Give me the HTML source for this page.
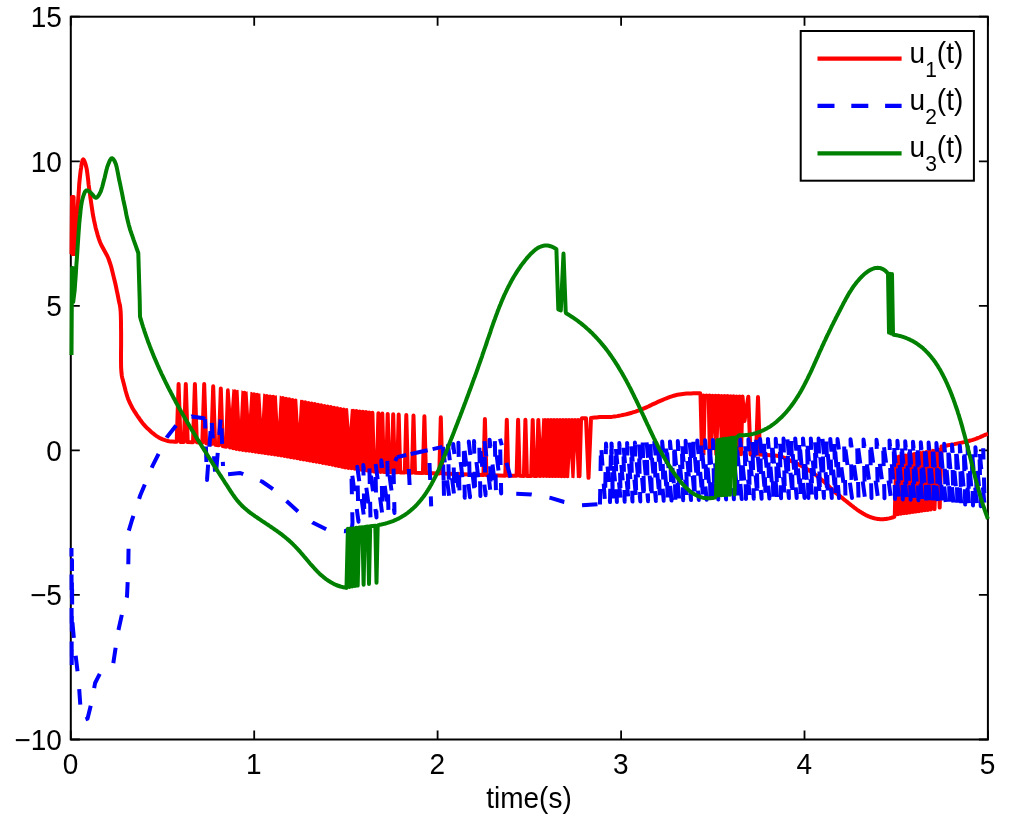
<!DOCTYPE html>
<html><head><meta charset="utf-8"><style>
html,body{margin:0;padding:0;background:#fff;overflow:hidden;}
svg{display:block;}
svg text{will-change:transform;}
text{font-family:"Liberation Sans",sans-serif;font-size:28px;fill:#000;}
</style></head><body>
<svg width="1024" height="823" viewBox="0 0 1024 823">
<rect x="0" y="0" width="1024" height="823" fill="#fff"/>
<rect x="70.8" y="16.7" width="917.1" height="722.8" fill="none" stroke="#000" stroke-width="2"/>
<path d="M70.8 739.5V730.5M70.8 16.7V25.7M254.2 739.5V730.5M254.2 16.7V25.7M437.6 739.5V730.5M437.6 16.7V25.7M621.1 739.5V730.5M621.1 16.7V25.7M804.5 739.5V730.5M804.5 16.7V25.7M987.9 739.5V730.5M987.9 16.7V25.7M70.8 739.5H79.8M987.9 739.5H978.9M70.8 594.9H79.8M987.9 594.9H978.9M70.8 450.4H79.8M987.9 450.4H978.9M70.8 305.8H79.8M987.9 305.8H978.9M70.8 161.3H79.8M987.9 161.3H978.9M70.8 16.7H79.8M987.9 16.7H978.9" stroke="#000" stroke-width="1.8" fill="none"/>
<g fill="none" stroke-linejoin="round" stroke-width="4.0">
<path d="M71.5 254.0L72.0 197.0L72.4 254.0L72.8 197.0L73.2 254.0L73.6 197.0L74.2 254.0L75.6 252.0L76.0 243.3L76.4 234.5L76.8 225.7L77.2 217.0L77.6 208.7L78.1 201.0L78.5 195.3L78.9 189.6L79.2 184.2L79.7 179.2L80.2 174.5L80.7 170.4L81.1 168.0L81.4 165.5L81.8 163.2L82.3 161.3L82.7 159.9L83.2 159.4L83.6 159.7L84.1 160.4L84.6 161.6L85.1 163.0L85.6 164.5L86.0 166.0L86.7 168.9L87.2 172.4L87.7 176.2L88.2 180.3L88.6 184.5L89.2 188.6L89.9 193.6L90.6 199.0L91.4 204.5L92.2 209.9L93.0 215.2L94.0 220.2L94.9 224.1L95.7 227.9L96.7 231.6L97.7 235.1L98.8 238.6L100.0 242.0L101.3 245.0L102.8 247.8L104.3 250.5L105.8 253.2L107.3 256.0L108.6 259.0L109.8 262.5L111.0 266.1L112.0 269.9L112.9 273.6L113.8 277.4L114.7 281.0L115.5 284.3L116.2 287.7L116.9 291.1L117.6 294.3L118.2 297.3L118.7 300.0L119.0 301.5L119.3 302.7L119.6 303.9L119.9 305.1L120.1 306.4L120.3 307.9L120.6 311.0L120.8 314.6L120.9 318.5L121.0 322.7L121.0 327.1L121.1 331.6L121.1 338.1L121.1 345.5L121.0 353.2L121.0 360.7L121.1 367.5L121.5 373.1L121.8 375.6L122.2 377.7L122.7 379.6L123.2 381.5L123.7 383.3L124.2 385.2L124.7 387.2L125.2 389.3L125.7 391.3L126.3 393.3L126.9 395.3L127.5 397.2L128.1 398.9L128.8 400.6L129.5 402.2L130.3 403.8L131.1 405.4L131.9 407.0L132.7 408.5L133.6 410.0L134.5 411.5L135.5 412.9L136.4 414.4L137.4 415.8L138.4 417.3L139.5 418.8L140.5 420.3L141.6 421.8L142.7 423.2L143.9 424.6L145.1 426.0L146.4 427.3L147.6 428.6L149.0 429.8L150.3 431.0L151.6 432.2L152.8 433.2L154.1 434.2L155.3 435.2L156.6 436.1L157.9 436.9L159.2 437.7L160.6 438.4L162.1 439.1L163.5 439.6L165.1 440.2L166.5 440.6L168.0 441.0L169.3 441.3L170.6 441.4L171.8 441.5L173.1 441.6L174.3 441.7L175.6 441.8L176.7 441.8L178.6 384.0L180.5 441.9L183.9 442.0L185.8 384.0L187.7 442.1L193.0 442.2L194.9 384.0L196.8 442.3L202.3 442.8L204.2 384.0L206.1 443.3L211.3 444.2L213.2 386.2L215.1 444.7L218.9 445.3L220.8 388.6L222.7 446.1L226.1 446.8L228.0 390.2L229.9 447.5L230.0 447.5L231.6 390.8L233.2 448.2L234.8 391.3L236.4 448.9L238.0 391.8L239.6 449.5L241.2 392.2L242.8 450.0L244.4 392.7L246.0 450.4L247.6 393.2L249.2 450.8L250.8 393.8L252.4 451.3L254.0 394.3L255.6 451.7L257.2 394.8L258.8 452.2L260.4 395.2L262.0 452.6L263.6 395.6L265.2 453.1L266.8 396.0L268.4 453.6L270.0 396.4L271.6 454.0L273.2 396.8L274.8 454.5L276.4 397.2L278.0 455.0L279.6 397.6L281.2 455.4L282.8 398.1L284.4 456.0L286.0 398.7L287.6 456.6L289.2 399.3L290.8 457.2L292.4 399.9L294.0 457.7L295.6 400.5L297.2 458.3L298.8 401.1L300.4 458.9L302.0 401.7L303.6 459.5L305.2 402.3L306.8 460.0L308.4 402.9L310.0 460.6L311.6 403.5L313.2 461.2L314.8 404.1L316.4 461.8L318.0 404.7L319.6 462.3L321.2 405.3L322.8 462.9L324.4 405.9L326.0 463.5L327.6 406.5L329.2 464.1L330.8 407.1L332.4 464.7L334.0 407.7L335.6 465.4L337.2 408.3L338.8 466.1L340.4 408.9L342.0 466.8L343.6 409.5L345.2 467.4L346.8 410.0L348.4 467.9L350.0 410.4L351.6 468.3L353.2 410.7L354.8 468.8L356.4 411.1L358.0 469.3L359.6 411.4L361.2 469.7L362.8 411.8L364.4 470.2L366.0 412.1L367.6 470.6L369.2 412.5L370.8 471.1L372.4 412.8L374.0 471.6L376.9 471.8L378.4 413.3L379.9 471.8L380.8 471.9L382.3 413.6L383.8 471.9L386.2 472.0L387.7 413.9L389.2 472.1L391.7 472.2L393.2 414.3L394.7 472.2L397.2 472.3L398.7 414.6L400.2 472.4L404.8 472.5L406.3 415.1L407.8 472.6L412.0 472.7L413.5 415.6L415.0 472.8L422.9 473.0L424.4 416.2L425.9 473.1L439.3 473.5L440.8 417.3L442.3 473.5L483.4 475.0L484.9 419.0L486.4 475.1L505.3 475.7L506.8 419.8L508.3 475.7L516.6 475.8L518.1 419.8L519.6 475.8L523.9 475.9L525.4 419.8L526.9 475.9L531.2 475.9L532.7 419.9L534.2 475.9L536.8 476.0L538.3 419.9L539.8 476.0L540.5 476.0L542.0 419.9L543.5 476.0L545.0 419.9L546.5 476.0L548.0 419.9L549.5 476.1L551.0 419.9L552.5 476.1L554.0 419.9L555.5 476.1L557.0 419.9L558.5 476.1L560.0 419.9L561.5 476.2L563.0 419.9L564.5 476.2L566.0 419.9L567.5 476.2L569.0 420.0L570.5 476.2L572.0 420.0L573.5 476.3L575.0 420.0L576.5 476.3L578.0 420.0L579.5 476.3L581.0 420.0L582.0 418.2L586.0 418.2L588.5 477.8L591.0 418.0L591.0 418.0L592.8 417.8L594.5 417.6L596.3 417.4L598.1 417.2L599.8 417.0L601.5 416.9L603.0 416.9L604.4 416.9L605.7 417.0L607.1 417.0L608.5 417.1L610.0 417.0L611.7 416.9L613.5 416.6L615.4 416.4L617.2 416.1L619.1 415.7L620.9 415.4L622.7 415.0L624.6 414.6L626.4 414.2L628.3 413.7L630.1 413.2L631.9 412.7L633.7 412.1L635.6 411.6L637.4 410.9L639.2 410.3L641.0 409.6L642.8 408.9L644.6 408.1L646.4 407.3L648.3 406.5L650.1 405.6L651.9 404.7L653.7 403.9L655.5 403.1L657.3 402.2L659.1 401.4L660.9 400.6L662.8 399.8L664.6 399.0L666.4 398.3L668.2 397.6L670.1 396.9L671.9 396.3L673.8 395.7L675.6 395.2L677.4 394.8L679.2 394.5L681.1 394.2L682.9 394.0L684.7 393.8L686.5 393.6L688.2 393.5L689.9 393.4L691.5 393.4L693.1 393.3L694.6 393.3L696.0 393.3L696.8 393.3L697.5 393.3L698.2 393.3L698.9 393.3L699.5 393.3L700.2 393.3L700.5 395.3L702.0 453.2L703.5 395.4L705.0 453.3L706.5 395.5L708.0 453.4L709.5 395.6L711.0 453.5L712.5 395.7L714.0 453.5L715.5 395.8L717.0 453.6L718.5 395.8L720.0 453.7L721.5 395.9L723.0 453.8L724.5 396.0L726.0 453.8L727.5 396.1L729.0 453.9L730.5 396.2L732.0 454.0L733.5 396.3L735.0 454.0L736.5 396.4L738.0 454.1L739.5 396.5L741.0 454.2L742.5 396.5L744.5 421.0L748.3 396.7L750.5 454.4L756.0 454.6L758.0 397.0L760.0 454.6L760.0 454.6L763.4 454.8L766.9 455.0L770.3 455.2L773.7 455.4L777.0 455.8L780.0 456.4L782.3 457.0L784.4 457.8L786.4 458.7L788.3 459.6L790.3 460.6L792.3 461.5L794.4 462.5L796.4 463.4L798.5 464.4L800.5 465.5L802.6 466.6L804.6 467.7L806.7 469.0L808.8 470.3L810.9 471.7L813.0 473.1L815.0 474.5L816.9 475.9L818.5 477.1L820.1 478.4L821.6 479.7L823.1 480.9L824.6 482.2L826.0 483.5L827.3 484.7L828.5 486.0L829.8 487.3L831.0 488.5L832.2 489.7L833.4 490.9L834.5 491.9L835.7 492.8L836.8 493.7L838.0 494.6L839.2 495.5L840.3 496.4L841.4 497.3L842.6 498.2L843.7 499.2L844.8 500.1L846.0 501.0L847.1 501.9L848.2 502.8L849.4 503.7L850.5 504.6L851.6 505.5L852.8 506.4L853.9 507.3L855.0 508.1L856.2 509.0L857.3 509.8L858.5 510.6L859.6 511.4L860.8 512.1L861.9 512.8L863.0 513.5L864.2 514.1L865.3 514.8L866.4 515.4L867.6 515.9L868.7 516.4L869.8 516.8L871.0 517.3L872.1 517.6L873.3 518.0L874.4 518.3L875.5 518.6L876.7 518.8L877.8 519.0L879.0 519.1L880.1 519.2L881.3 519.3L882.4 519.3L883.6 519.2L884.7 519.1L885.9 519.0L887.0 518.8L888.1 518.6L889.2 518.4L890.2 518.1L891.2 517.8L892.2 517.5L893.3 517.2L894.3 516.9L894.8 514.6L896.3 457.1L897.8 514.2L899.3 456.6L900.8 513.8L902.3 456.0L903.8 513.3L905.3 455.5L906.8 512.9L908.3 455.0L909.8 512.5L911.3 454.5L912.8 512.0L914.3 454.0L915.8 511.6L917.3 453.5L918.8 511.2L920.3 452.9L921.8 510.7L923.3 452.4L924.8 510.3L926.3 451.9L927.8 509.9L929.3 451.4L930.8 509.4L933.0 450.7L934.5 509.1L936.5 450.0L938.0 449.6L939.7 507.6L941.5 446.5L941.5 446.5L943.6 446.1L945.7 445.7L947.9 445.3L950.0 444.9L952.1 444.5L954.3 444.1L956.7 443.6L959.2 443.1L961.7 442.6L964.1 442.1L966.5 441.6L968.7 441.0L970.4 440.5L972.0 440.1L973.6 439.6L975.1 439.1L976.6 438.5L978.0 438.0L979.3 437.5L980.6 436.9L981.8 436.3L983.0 435.8L984.1 435.3L985.1 434.9L985.6 434.7L986.1 434.5L986.6 434.4L987.0 434.3L987.4 434.1L987.9 434.0" stroke="#ff0000"/>
<path d="M229.5 387.7L232.5 387.7L231.0 409.0ZM238.5 389.1L241.5 389.1L240.0 420.0ZM247.5 390.5L250.5 390.5L249.0 415.0ZM260.3 392.4L263.3 392.4L261.8 419.0ZM276.8 394.5L279.8 394.5L278.3 422.0ZM297.2 398.1L300.2 398.1L298.7 423.7ZM348.0 407.3L351.0 407.3L349.5 428.0ZM540.0 415.0L542.4 415.0L541.2 439.0ZM569.0 481.0L571.6 481.0L570.3 457.7ZM574.4 481.0L577.0 481.0L575.7 450.9ZM705.4 458.0L708.0 458.0L706.7 398.0ZM712.1 458.0L714.5 458.0L713.3 432.6ZM718.0 458.0L720.4 458.0L719.2 425.8Z" fill="#fff" stroke="none"/>
<g stroke="#0000ff" stroke-dasharray="15.5 18.0"><path d="M71.5 548.0L71.7 670.0L72.0 560.0L72.2 620.0L74.7 647.4L78.6 680.5L81.1 716.2L84.0 720.0L87.5 718.7L91.3 703.4L95.1 683.0L100.2 672.9L113.0 665.2L118.0 632.1L123.1 609.2L127.0 596.4L128.2 571.0L128.8 530.8L132.0 520.0L140.2 495.5L152.3 466.4L166.9 437.2L177.0 424.4L191.6 416.4L203.7 418.3L205.0 419.0" stroke-dashoffset="7.01"/><path d="M205.0 419.0L207.0 480.0L211.5 418.0L215.5 479.0L221.0 415.0L223.0 466.0" stroke-dashoffset="6.00"/><path d="M228.0 474.2L240.2 473.0L262.0 481.5L274.2 490.0L286.4 501.0L298.5 511.9L313.1 522.8L327.7 530.1L344.7 531.3L352.0 527.7" stroke-dashoffset="33.43"/><path d="M352.0 527.7L352.5 522.8L351.3 468.3L358.5 521.7L357.3 466.7L364.5 520.7L363.3 465.0L370.5 519.2L369.3 463.2L376.5 517.5L375.3 461.5L382.5 516.0L381.3 460.3L388.5 514.5L387.3 459.1L394.5 513.0L393.3 457.8" stroke-dashoffset="0.00"/><path d="M443.0 446.8L444.0 496.9L442.8 446.8L449.2 496.7L448.0 445.5L454.4 497.2L453.2 444.1L459.6 497.8L458.4 442.7L464.8 497.7L463.6 442.0L470.0 497.2L468.8 441.5L475.2 496.6L474.0 441.1L480.4 496.0L479.2 440.6L485.6 495.3L484.4 440.1L490.8 494.7L489.6 439.7L496.0 494.0L494.8 439.2L501.2 493.4L500.0 438.8" stroke-dashoffset="0.00"/><path d="M500.0 438.8L515.0 493.8L531.4 494.4L550.6 497.9L564.2 502.0L582.0 505.3L598.4 504.2L600.0 504.5" stroke-dashoffset="8.73"/><path d="M600.0 504.5L600.0 502.4L601.0 443.8L605.0 502.3L606.0 443.6L610.0 502.1L611.0 443.4L613.0 502.1L611.5 443.4L616.9 502.0L615.4 443.3L620.8 501.9L619.3 443.1L624.7 501.8L623.2 443.0L628.6 501.7L627.1 442.9L632.5 501.6L631.0 442.7L636.4 501.5L634.9 442.6L640.3 501.4L638.8 442.4L644.2 501.3L642.7 442.3L648.1 501.2L646.6 442.2L652.0 501.1L650.5 442.0L655.9 501.0L654.4 441.9L659.8 500.9L658.3 441.8L663.7 500.8L662.2 441.6L667.6 500.7L666.1 441.5L671.5 500.6L670.0 441.4L675.4 500.5L673.9 441.2L679.3 500.4L677.8 441.1L683.2 500.3L681.7 440.9L687.1 500.2L685.6 440.8L691.0 500.1L689.5 440.7L694.9 500.0L693.4 440.5L698.8 499.9L697.3 440.4L702.7 499.8L701.2 440.3L706.6 499.8L705.1 440.2L710.5 499.7L709.0 440.1L714.4 499.6L712.9 440.0L718.3 499.5L716.8 440.0L722.2 499.5L720.7 439.9L726.1 499.4L724.6 439.8L730.0 499.3L728.5 439.7L733.9 499.2L732.4 439.7L737.8 499.1L736.3 439.6L741.7 499.1L740.2 439.5L746.0 499.0L744.5 439.4L749.9 498.9L748.4 439.3L753.8 498.8L752.3 439.3L757.7 498.7L756.2 439.2L761.6 498.7L760.1 439.1L765.5 498.6L764.0 439.0L769.4 498.5L767.9 438.9L773.3 498.4L771.8 438.9L777.2 498.4L775.7 438.8L781.1 498.3L779.6 438.7L785.0 498.2L783.5 438.6L788.9 498.1L787.4 438.6L792.8 498.0L791.3 438.5L796.7 498.0L795.2 438.4L800.6 497.9L799.1 438.3L804.5 497.9L803.0 438.4L808.4 497.9L806.9 438.4L812.3 497.9L810.8 438.5L816.2 497.9L814.7 438.6L820.1 498.0L818.6 438.6L824.0 498.0L822.5 438.7L827.9 498.0L826.4 438.8L831.8 498.0L830.3 438.9L835.7 498.0L834.2 438.9L839.0 498.0L837.5 439.0L845.5 498.0L844.0 439.1L852.0 498.0L850.5 439.2L858.5 498.0L857.0 439.4L865.0 498.1L863.5 439.5L871.5 498.1L870.0 439.6L878.0 498.1L876.5 439.7L884.5 498.3L883.0 440.0L891.0 498.7L889.5 440.4L895.0 498.9L893.5 440.6L898.9 499.1L897.4 440.8L902.8 499.4L901.3 441.0L906.7 499.6L905.2 441.3L910.6 499.8L909.1 441.5L914.5 500.0L913.0 441.7L918.4 500.2L916.9 442.0L922.3 500.4L920.8 442.2L926.2 500.6L924.7 442.4L930.1 500.9L928.6 442.6L934.0 501.1L932.5 442.9L937.9 501.3L936.4 443.1L941.8 501.6L940.3 443.3L945.7 502.1L944.2 443.8L949.6 502.6L948.1 444.2L953.5 503.0L952.0 444.7L957.4 503.5L955.9 445.1L961.3 504.0L959.8 445.5L965.2 504.5L963.7 446.0L969.1 504.9L967.6 446.4L973.0 505.4L971.5 446.9L976.9 505.9L975.4 447.3L980.8 506.3L979.3 447.7L984.7 506.8L983.2 448.2" stroke-dashoffset="0.00"/><path d="M397.0 457.1L406.3 455.0M410.7 454.0L427.7 450.2M432.6 449.1L442.5 446.9M395.2 461.0L397.0 457.1M408.8 469.0L409.6 485.0M429.5 463.0L430.2 480.0M430.8 496.4L431.2 506.4" stroke-dasharray="none"/></g>
<path d="M71.5 355.0L72.0 268.0L72.4 300.0L72.8 268.0L73.2 302.0L74.7 290.0L75.1 283.6L75.6 277.3L76.0 270.9L76.4 264.5L76.9 258.2L77.3 252.0L77.7 246.1L78.1 240.1L78.5 234.2L78.9 228.5L79.3 223.1L79.8 218.0L80.2 214.5L80.5 211.1L80.9 207.8L81.3 204.8L81.8 201.9L82.4 199.3L82.9 197.5L83.4 195.8L84.0 194.1L84.6 192.7L85.2 191.5L85.8 190.8L86.1 190.6L86.3 190.5L86.6 190.4L86.9 190.4L87.2 190.4L87.5 190.5L88.0 190.7L88.6 191.0L89.2 191.5L89.8 191.9L90.4 192.5L91.0 193.0L91.8 193.8L92.7 194.8L93.5 195.9L94.4 196.9L95.2 197.6L96.0 197.8L96.7 197.6L97.4 197.0L98.1 196.2L98.8 195.2L99.4 194.1L100.0 193.0L100.8 191.3L101.5 189.2L102.2 187.0L102.8 184.7L103.4 182.3L104.0 180.0L104.7 177.5L105.3 174.9L105.9 172.2L106.6 169.6L107.2 167.1L108.0 165.0L108.6 163.5L109.2 162.0L109.8 160.6L110.5 159.4L111.1 158.6L111.8 158.2L112.3 158.3L112.9 158.7L113.4 159.3L114.0 160.1L114.5 161.0L115.0 162.0L115.9 164.3L116.7 167.2L117.4 170.6L118.1 174.2L118.8 177.8L119.5 181.3L120.3 184.8L121.0 188.4L121.8 192.1L122.5 195.7L123.2 199.4L124.0 203.0L124.8 206.7L125.6 210.5L126.3 214.4L127.1 218.1L128.0 221.7L128.8 225.0L129.5 227.4L130.1 229.6L130.8 231.7L131.5 233.7L132.3 235.8L133.0 238.0L133.8 240.4L134.7 242.9L135.6 245.4L136.5 248.0L137.4 250.5L138.3 253.0L139.7 300.0L140.0 316.6L140.4 318.1L140.8 319.5L141.3 321.0L141.7 322.4L142.1 323.9L142.6 325.3L143.0 326.8L143.5 328.2L144.0 329.6L144.4 331.1L144.9 332.5L145.4 333.9L145.9 335.4L146.4 336.8L146.9 338.2L147.4 339.6L147.9 341.1L148.4 342.5L149.0 343.9L149.5 345.3L150.0 346.7L150.6 348.1L151.1 349.5L151.7 350.9L152.2 352.3L152.8 353.7L153.4 355.1L153.9 356.5L154.5 357.9L155.1 359.2L155.7 360.6L156.3 362.0L156.9 363.4L157.5 364.8L158.1 366.1L158.7 367.5L159.3 368.9L159.9 370.2L160.6 371.6L161.2 373.0L161.8 374.3L162.5 375.7L163.1 377.0L163.8 378.4L164.4 379.7L165.1 381.1L165.7 382.4L166.4 383.8L167.1 385.1L167.7 386.5L168.4 387.8L169.1 389.2L169.8 390.5L170.5 391.8L171.2 393.2L171.9 394.5L172.6 395.8L173.3 397.2L174.0 398.5L174.7 399.8L175.4 401.1L176.1 402.5L176.8 403.8L177.6 405.1L178.3 406.4L179.0 407.7L179.7 409.0L180.5 410.3L181.2 411.7L182.0 413.0L182.7 414.3L183.5 415.6L184.2 416.9L185.0 418.2L185.7 419.5L186.5 420.8L187.2 422.1L188.0 423.4L188.8 424.7L189.5 426.0L190.3 427.3L191.1 428.6L191.8 429.9L192.6 431.2L193.4 432.4L194.2 433.7L194.9 435.0L195.7 436.3L196.5 437.6L197.3 438.9L198.1 440.2L198.9 441.4L199.7 442.7L200.5 444.0L201.3 445.3L202.1 446.6L202.9 447.8L203.7 449.1L204.5 450.4L205.3 451.7L206.1 452.9L206.9 454.2L207.7 455.5L208.5 456.8L209.3 458.0L210.1 459.3L210.9 460.6L211.7 461.8L212.5 463.1L213.3 464.4L214.1 465.6L215.0 466.9L215.8 468.2L216.6 469.4L217.4 470.7L218.2 472.0L219.0 473.2L219.8 474.5L220.6 475.8L221.5 477.0L222.3 478.3L223.1 479.5L223.9 480.8L224.7 482.1L225.5 483.3L226.4 484.6L227.2 485.8L228.0 487.1L228.8 488.4L229.6 489.6L230.4 490.9L231.2 492.1L232.1 493.4L232.9 494.6L233.8 495.8L234.6 497.1L235.5 498.2L236.4 499.4L237.3 500.6L238.3 501.7L239.3 502.8L240.3 503.9L241.3 505.0L242.3 506.0L243.4 507.1L244.5 508.1L245.7 509.0L246.8 510.0L248.0 510.9L249.1 511.9L250.3 512.8L251.5 513.7L252.8 514.6L254.0 515.4L255.2 516.3L256.5 517.2L257.7 518.0L259.0 518.9L260.2 519.7L261.5 520.6L262.7 521.4L264.0 522.2L265.3 523.1L266.5 523.9L267.8 524.7L269.0 525.6L270.3 526.4L271.5 527.3L272.8 528.1L274.0 529.0L275.2 529.8L276.5 530.7L277.7 531.6L278.9 532.4L280.1 533.3L281.3 534.2L282.5 535.1L283.7 536.1L284.9 537.0L286.0 538.0L287.2 538.9L288.3 539.9L289.5 540.9L290.6 541.9L291.7 543.0L292.8 544.0L293.8 545.1L294.9 546.2L296.0 547.3L297.0 548.4L298.0 549.5L299.1 550.6L300.1 551.8L301.1 553.0L302.1 554.1L303.1 555.3L304.1 556.5L305.1 557.6L306.1 558.8L307.1 560.0L308.0 561.1L309.0 562.3L310.0 563.5L311.0 564.6L312.0 565.7L313.1 566.9L314.1 568.0L315.1 569.1L316.1 570.2L317.2 571.3L318.2 572.3L319.3 573.4L320.4 574.4L321.5 575.4L322.6 576.3L323.7 577.3L324.9 578.2L326.0 579.1L327.2 579.9L328.4 580.8L329.7 581.5L330.9 582.3L332.2 583.0L333.5 583.7L334.8 584.4L336.1 585.0L337.5 585.5L338.9 586.0L340.4 586.5L341.8 586.9L343.3 587.3L344.8 587.6L346.4 587.9L346.5 587.3L347.9 528.8L349.3 586.9L350.7 528.5L352.1 586.5L353.5 528.2L354.9 586.0L356.3 527.8L357.7 585.6L359.1 527.5L360.5 527.4L362.4 527.2L363.6 584.7L364.8 526.9L367.8 526.5L369.0 583.9L370.2 526.3L375.3 525.7L376.5 582.7L377.7 525.4L379.6 524.8L381.3 524.5L382.9 524.1L384.5 523.8L386.1 523.3L387.6 522.9L389.2 522.4L390.7 521.9L392.1 521.4L393.6 520.8L395.0 520.2L396.4 519.6L397.7 518.9L399.1 518.3L400.4 517.6L401.7 516.8L402.9 516.1L404.2 515.3L405.4 514.5L406.6 513.6L407.8 512.8L408.9 511.9L410.0 511.0L411.1 510.1L412.2 509.1L413.3 508.2L414.3 507.2L415.4 506.2L416.4 505.1L417.4 504.1L418.3 503.0L419.3 501.9L420.2 500.8L421.1 499.7L422.0 498.5L422.9 497.4L423.8 496.2L424.7 495.0L425.5 493.8L426.3 492.6L427.1 491.3L427.9 490.1L428.7 488.8L429.5 487.6L430.2 486.3L431.0 485.0L431.7 483.7L432.4 482.3L433.1 481.0L433.8 479.7L434.5 478.3L435.2 477.0L435.9 475.6L436.5 474.2L437.2 472.9L437.8 471.5L438.5 470.1L439.1 468.7L439.7 467.3L440.3 465.9L440.9 464.4L441.5 463.0L442.1 461.6L442.7 460.2L443.3 458.8L443.9 457.3L444.5 455.9L445.1 454.5L445.6 453.0L446.2 451.6L446.8 450.2L447.4 448.7L447.9 447.3L448.5 445.9L449.1 444.5L449.6 443.0L450.2 441.6L450.7 440.2L451.3 438.8L451.9 437.4L452.4 436.0L453.0 434.5L453.5 433.1L454.1 431.7L454.6 430.3L455.2 428.9L455.7 427.5L456.3 426.1L456.8 424.7L457.4 423.3L457.9 421.9L458.4 420.4L459.0 419.0L459.5 417.6L460.1 416.2L460.6 414.8L461.1 413.4L461.7 412.0L462.2 410.6L462.7 409.2L463.3 407.8L463.8 406.4L464.3 405.0L464.8 403.6L465.4 402.2L465.9 400.8L466.4 399.4L466.9 398.0L467.5 396.6L468.0 395.2L468.5 393.8L469.0 392.4L469.5 391.0L470.1 389.6L470.6 388.2L471.1 386.8L471.6 385.4L472.1 384.0L472.6 382.6L473.1 381.2L473.6 379.8L474.1 378.4L474.7 377.0L475.2 375.6L475.7 374.2L476.2 372.8L476.7 371.4L477.2 370.0L477.7 368.6L478.2 367.2L478.7 365.7L479.2 364.3L479.7 362.9L480.2 361.5L480.7 360.1L481.2 358.7L481.7 357.3L482.2 355.8L482.6 354.4L483.1 353.0L483.6 351.6L484.1 350.2L484.6 348.7L485.1 347.3L485.6 345.9L486.1 344.5L486.6 343.0L487.0 341.6L487.5 340.2L488.0 338.7L488.5 337.3L489.0 335.9L489.5 334.4L490.0 333.0L490.5 331.6L490.9 330.1L491.4 328.7L491.9 327.2L492.4 325.8L492.9 324.4L493.4 322.9L493.9 321.5L494.4 320.1L495.0 318.7L495.5 317.2L496.0 315.8L496.5 314.4L497.1 312.9L497.6 311.5L498.1 310.1L498.7 308.7L499.2 307.3L499.8 305.9L500.4 304.5L500.9 303.1L501.5 301.7L502.1 300.3L502.7 298.9L503.3 297.5L503.9 296.1L504.5 294.7L505.2 293.3L505.8 292.0L506.5 290.6L507.1 289.2L507.8 287.9L508.5 286.5L509.2 285.2L509.9 283.9L510.6 282.5L511.3 281.2L512.0 279.9L512.8 278.6L513.5 277.3L514.3 276.0L515.1 274.7L515.9 273.4L516.7 272.1L517.5 270.8L518.3 269.6L519.2 268.3L520.1 267.1L520.9 265.8L521.8 264.6L522.7 263.4L523.7 262.2L524.6 261.0L525.6 259.8L526.5 258.6L527.5 257.4L528.5 256.3L529.6 255.1L530.6 254.0L531.7 252.9L532.8 251.9L533.9 250.9L535.0 250.0L536.1 249.1L537.3 248.3L538.5 247.6L539.7 247.0L541.0 246.5L542.2 246.1L543.5 245.8L544.8 245.6L546.2 245.5L547.5 245.6L548.9 245.8L550.4 246.2L551.8 246.7L553.3 247.3L554.9 248.2L556.4 249.2L558.3 309.5L560.8 310.5L563.5 253.6L565.7 311.6L566.0 313.2L567.4 314.0L568.7 314.8L570.0 315.6L571.3 316.5L572.6 317.3L573.9 318.2L575.2 319.1L576.4 319.9L577.7 320.8L578.9 321.8L580.1 322.7L581.3 323.6L582.5 324.6L583.6 325.5L584.8 326.5L585.9 327.5L587.0 328.5L588.2 329.5L589.3 330.5L590.3 331.5L591.4 332.6L592.5 333.6L593.5 334.7L594.6 335.7L595.6 336.8L596.6 337.9L597.6 339.0L598.6 340.1L599.6 341.2L600.6 342.3L601.5 343.4L602.5 344.6L603.4 345.7L604.4 346.9L605.3 348.0L606.2 349.2L607.1 350.4L608.0 351.6L608.9 352.8L609.7 354.0L610.6 355.2L611.4 356.4L612.3 357.6L613.1 358.9L614.0 360.1L614.8 361.4L615.6 362.6L616.4 363.9L617.2 365.1L618.0 366.4L618.8 367.7L619.5 369.0L620.3 370.3L621.1 371.5L621.8 372.8L622.6 374.1L623.3 375.5L624.1 376.8L624.8 378.1L625.5 379.4L626.3 380.7L627.0 382.1L627.7 383.4L628.4 384.7L629.1 386.1L629.8 387.4L630.5 388.8L631.2 390.1L631.8 391.5L632.5 392.8L633.2 394.2L633.9 395.6L634.5 396.9L635.2 398.3L635.9 399.7L636.5 401.0L637.2 402.4L637.9 403.8L638.5 405.2L639.2 406.6L639.8 407.9L640.5 409.3L641.1 410.7L641.7 412.1L642.4 413.5L643.0 414.9L643.7 416.2L644.3 417.6L644.9 419.0L645.6 420.4L646.2 421.8L646.9 423.2L647.5 424.6L648.2 425.9L648.8 427.3L649.4 428.7L650.1 430.1L650.7 431.5L651.4 432.8L652.0 434.2L652.7 435.6L653.4 437.0L654.0 438.3L654.7 439.7L655.4 441.1L656.1 442.4L656.7 443.8L657.4 445.1L658.1 446.5L658.8 447.8L659.5 449.2L660.2 450.5L661.0 451.8L661.7 453.2L662.4 454.5L663.1 455.8L663.9 457.1L664.7 458.4L665.4 459.7L666.2 461.0L667.0 462.3L667.8 463.6L668.6 464.9L669.4 466.2L670.2 467.4L671.0 468.7L671.9 470.0L672.7 471.2L673.6 472.4L674.4 473.7L675.3 474.9L676.2 476.1L677.1 477.3L678.1 478.5L679.0 479.7L679.9 480.9L680.9 482.1L681.9 483.2L682.9 484.4L683.9 485.5L684.9 486.5L686.0 487.6L687.0 488.6L688.1 489.6L689.2 490.6L690.3 491.5L691.5 492.3L692.7 493.1L693.9 493.9L695.1 494.6L696.3 495.3L697.6 495.9L698.9 496.4L700.2 496.9L701.5 497.3L702.9 497.7L704.3 497.9L705.7 498.1L707.2 498.3L708.7 498.3L710.2 498.3L711.8 498.1L713.4 497.9L715.0 497.6L716.0 495.6L717.4 439.9L718.8 495.4L720.2 439.5L721.6 495.2L723.0 439.1L724.4 495.1L725.8 438.8L727.2 494.9L728.3 438.4L728.8 438.4L729.9 494.7L731.0 438.1L733.5 437.8L734.6 494.4L735.7 437.5L737.0 437.3L739.0 435.2L740.6 435.2L742.3 435.2L743.9 435.2L745.5 435.1L747.0 434.9L748.6 434.7L750.1 434.5L751.6 434.2L753.1 433.9L754.6 433.5L756.0 433.1L757.4 432.6L758.8 432.1L760.2 431.6L761.6 431.0L763.0 430.4L764.3 429.8L765.6 429.1L766.9 428.4L768.2 427.6L769.5 426.9L770.7 426.1L771.9 425.2L773.1 424.4L774.3 423.5L775.5 422.5L776.7 421.6L777.8 420.6L778.9 419.6L780.0 418.6L781.1 417.6L782.2 416.5L783.2 415.4L784.2 414.3L785.3 413.2L786.3 412.1L787.2 411.0L788.2 409.8L789.2 408.6L790.1 407.4L791.0 406.2L791.9 405.0L792.8 403.8L793.7 402.6L794.5 401.3L795.4 400.1L796.2 398.8L797.0 397.5L797.9 396.3L798.6 395.0L799.4 393.7L800.2 392.4L801.0 391.0L801.7 389.7L802.5 388.4L803.2 387.0L803.9 385.7L804.6 384.3L805.3 383.0L806.0 381.6L806.7 380.2L807.4 378.9L808.1 377.5L808.7 376.1L809.4 374.7L810.1 373.3L810.7 372.0L811.4 370.6L812.0 369.2L812.6 367.8L813.3 366.4L813.9 365.0L814.5 363.6L815.2 362.2L815.8 360.8L816.4 359.4L817.0 358.0L817.7 356.6L818.3 355.2L818.9 353.8L819.5 352.4L820.1 351.0L820.8 349.6L821.4 348.3L822.0 346.9L822.6 345.5L823.3 344.2L823.9 342.8L824.5 341.4L825.2 340.1L825.8 338.7L826.4 337.4L827.1 336.0L827.7 334.7L828.4 333.3L829.0 332.0L829.7 330.6L830.3 329.3L831.0 327.9L831.6 326.6L832.3 325.2L833.0 323.9L833.6 322.6L834.3 321.2L835.0 319.9L835.7 318.5L836.3 317.2L837.0 315.9L837.7 314.5L838.4 313.2L839.1 311.8L839.8 310.5L840.5 309.1L841.2 307.8L841.9 306.4L842.6 305.1L843.3 303.7L844.0 302.3L844.8 301.0L845.5 299.6L846.2 298.3L847.0 296.9L847.8 295.6L848.5 294.2L849.3 292.9L850.1 291.6L851.0 290.3L851.8 289.0L852.7 287.7L853.5 286.4L854.4 285.2L855.4 284.0L856.3 282.7L857.3 281.5L858.3 280.4L859.3 279.2L860.3 278.1L861.4 277.0L862.5 275.9L863.6 274.8L864.8 273.8L866.0 272.8L867.2 271.9L868.5 271.0L869.7 270.3L871.0 269.6L872.3 269.0L873.6 268.5L874.9 268.1L876.2 267.9L877.6 267.8L878.9 267.9L880.2 268.1L881.5 268.5L882.8 269.1L884.2 269.9L885.5 270.9L886.7 272.2L888.0 273.6L889.0 332.6L890.0 273.7L891.0 333.5L892.0 274.0L893.0 334.0L893.6 334.7L895.2 335.0L896.8 335.3L898.4 335.6L899.9 336.0L901.4 336.4L902.9 336.9L904.4 337.4L905.8 337.9L907.2 338.5L908.6 339.1L910.0 339.7L911.3 340.4L912.6 341.0L913.9 341.8L915.1 342.5L916.4 343.3L917.6 344.1L918.7 345.0L919.9 345.8L921.0 346.7L922.2 347.6L923.3 348.6L924.3 349.6L925.4 350.6L926.4 351.6L927.4 352.6L928.4 353.7L929.4 354.8L930.4 355.9L931.3 357.0L932.2 358.2L933.1 359.3L934.0 360.5L934.9 361.7L935.7 362.9L936.5 364.2L937.4 365.4L938.2 366.7L938.9 368.0L939.7 369.2L940.5 370.6L941.2 371.9L941.9 373.2L942.6 374.5L943.3 375.9L944.0 377.3L944.7 378.6L945.4 380.0L946.0 381.4L946.7 382.8L947.3 384.2L947.9 385.6L948.5 387.0L949.1 388.4L949.7 389.8L950.3 391.2L950.9 392.7L951.4 394.1L952.0 395.5L952.5 397.0L953.1 398.4L953.6 399.8L954.1 401.3L954.6 402.7L955.1 404.1L955.6 405.6L956.1 407.0L956.6 408.5L957.1 409.9L957.6 411.4L958.0 412.8L958.5 414.3L959.0 415.7L959.4 417.2L959.8 418.7L960.3 420.1L960.7 421.6L961.1 423.0L961.6 424.5L962.0 426.0L962.4 427.4L962.8 428.9L963.2 430.4L963.6 431.9L964.0 433.3L964.4 434.8L964.8 436.3L965.2 437.7L965.6 439.2L966.0 440.7L966.4 442.2L966.7 443.6L967.1 445.1L967.5 446.6L967.9 448.1L968.2 449.5L968.6 451.0L969.0 452.5L969.3 453.9L969.7 455.4L970.1 456.9L970.4 458.4L970.8 459.8L971.2 461.3L971.5 462.8L971.9 464.3L972.3 465.7L972.6 467.2L973.0 468.7L973.4 470.1L973.7 471.6L974.1 473.1L974.5 474.5L974.9 476.0L975.2 477.5L975.6 478.9L976.0 480.4L976.4 481.8L976.8 483.3L977.2 484.7L977.6 486.2L978.0 487.6L978.4 489.1L978.8 490.5L979.2 492.0L979.6 493.4L980.0 494.9L980.4 496.3L980.8 497.8L981.3 499.2L981.7 500.6L982.1 502.1L982.6 503.5L983.0 504.9L983.5 506.3L984.0 507.7L984.4 509.2L984.9 510.6L985.4 512.0L985.9 513.4L986.4 514.8L986.9 516.2L987.4 517.6L987.9 519.0" stroke="#008000"/>
</g>
<text transform="translate(61.8 750.0) scale(1 1.040)" text-anchor="end">−10</text><text transform="translate(61.8 605.4) scale(1 1.040)" text-anchor="end">−5</text><text transform="translate(61.8 460.9) scale(1 1.040)" text-anchor="end">0</text><text transform="translate(61.8 316.3) scale(1 1.040)" text-anchor="end">5</text><text transform="translate(61.8 171.8) scale(1 1.040)" text-anchor="end">10</text><text transform="translate(61.8 27.2) scale(1 1.040)" text-anchor="end">15</text>
<text transform="translate(70.5 774.3) scale(1 1.040)" text-anchor="middle">0</text><text transform="translate(253.9 774.3) scale(1 1.040)" text-anchor="middle">1</text><text transform="translate(437.3 774.3) scale(1 1.040)" text-anchor="middle">2</text><text transform="translate(620.8 774.3) scale(1 1.040)" text-anchor="middle">3</text><text transform="translate(804.2 774.3) scale(1 1.040)" text-anchor="middle">4</text><text transform="translate(987.6 774.3) scale(1 1.040)" text-anchor="middle">5</text>
<text transform="translate(529.0 807.5) scale(1 1.040)" text-anchor="middle">time(s)</text>
<rect x="800.7" y="31" width="173.2" height="149.7" fill="#fff" stroke="#000" stroke-width="2"/>
<path d="M817.5 58.7H901.6" stroke="#ff0000" stroke-width="4.3"/>
<path d="M817.5 105.8H901.6" stroke="#0000ff" stroke-width="4.3" stroke-dasharray="17 16.8"/>
<path d="M817.5 153.4H901.6" stroke="#008000" stroke-width="4.3"/>
<text transform="translate(909.6 62.6) scale(1 1.040)" text-anchor="start">u<tspan font-size="21" dy="13.5">1</tspan><tspan dy="-13.5">(t)</tspan></text><text transform="translate(909.6 109.9) scale(1 1.040)" text-anchor="start">u<tspan font-size="21" dy="13.5">2</tspan><tspan dy="-13.5">(t)</tspan></text><text transform="translate(909.6 157.2) scale(1 1.040)" text-anchor="start">u<tspan font-size="21" dy="13.5">3</tspan><tspan dy="-13.5">(t)</tspan></text>
</svg>
</body></html>
